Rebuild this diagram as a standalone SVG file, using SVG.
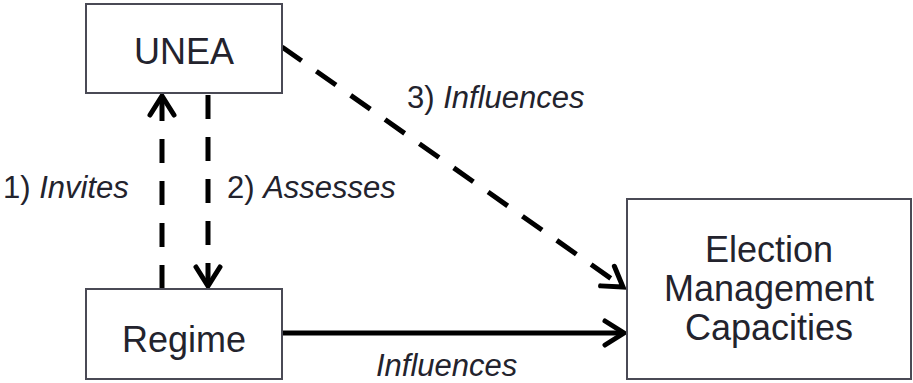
<svg xmlns="http://www.w3.org/2000/svg" width="913" height="383" viewBox="0 0 913 383">
<style>
.box{fill:#fff;stroke:#4a4a55;stroke-width:2}
.nt{font-family:"Liberation Sans",Arial,sans-serif;font-size:36px;fill:#23232d;text-anchor:middle}
.lb{font-family:"Liberation Sans",Arial,sans-serif;font-size:31px;fill:#23232d}
.it{font-style:italic}
.ln{fill:none;stroke:#000;stroke-width:5}
.dash{stroke-dasharray:24 18}
.head{fill:none;stroke:#000;stroke-width:5;stroke-dasharray:none;stroke-linecap:round}
</style>
<defs>
<marker id="arr" markerUnits="userSpaceOnUse" markerWidth="40" markerHeight="40" refX="0" refY="0" viewBox="-25 -20 30 40" orient="auto" overflow="visible">
<path class="head" d="M -19 -12 L 0 0 L -19 12"/>
</marker>
</defs>
<g id="connectors">
<path class="ln dash" d="M 162 289 L 162 96" marker-end="url(#arr)"/>
<path class="ln dash" d="M 208 95 L 208 286" marker-end="url(#arr)"/>
<path class="ln dash" d="M 282 47 L 623 287" marker-end="url(#arr)"/>
<path class="ln" d="M 282 333 L 624 333" marker-end="url(#arr)"/>
<text class="lb" x="3" y="198">1) <tspan class="it">Invites</tspan></text>
<text class="lb" x="227" y="198">2) <tspan class="it">Assesses</tspan></text>
<text class="lb" x="407" y="108">3) <tspan class="it">Influences</tspan></text>
<text class="lb it" x="376" y="376">Influences</text>
</g>
<g id="unea">
<rect class="box" x="86" y="4" width="196" height="89"/>
<text class="nt" x="184" y="64">UNEA</text>
</g>
<g id="regime">
<rect class="box" x="86" y="289" width="196" height="90"/>
<text class="nt" x="184" y="352">Regime</text>
</g>
<g id="emc">
<rect class="box" x="627" y="199" width="284" height="180"/>
<text class="nt" x="769" y="262">Election</text>
<text class="nt" x="769" y="301">Management</text>
<text class="nt" x="769" y="340">Capacities</text>
</g>
</svg>
